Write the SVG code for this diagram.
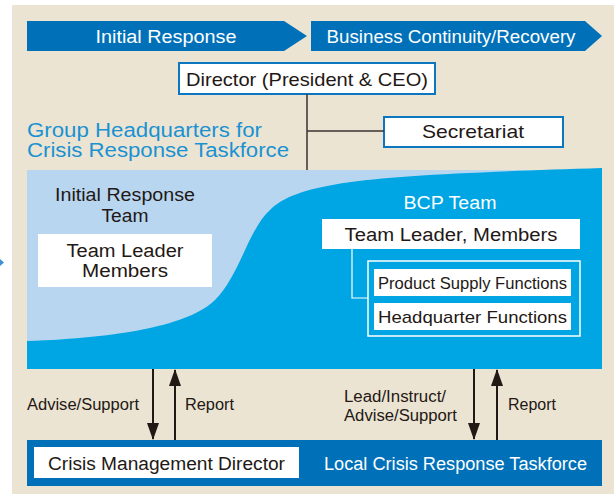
<svg xmlns="http://www.w3.org/2000/svg" width="614" height="494" viewBox="0 0 614 494">
<defs>
<style>
text{font-family:"Liberation Sans",Arial,sans-serif;fill:#231815}
.w{fill:#ffffff}
.hq{fill:#1a92d2}
.box{fill:#ffffff}
.bbox{fill:#ffffff;stroke:#0a77c0;stroke-width:2}
.ln{stroke:#3a3330;stroke-width:1.5;fill:none}
.ar{stroke:#231815;stroke-width:2;fill:none}
</style>
<marker id="ah" viewBox="0 0 17 12" refX="16" refY="6" markerWidth="17" markerHeight="12" markerUnits="userSpaceOnUse" orient="auto">
<path d="M0,0 L17,6 L0,12 Z" fill="#231815"/>
</marker>
</defs>
<rect x="0" y="0" width="614" height="494" fill="#ffffff"/>
<rect x="12" y="5" width="602" height="489" fill="#ece4d2"/>
<path d="M0,259 L4,262.5 L0,266 Z" fill="#3d8fd6"/>

<g id="phase-initial">
<path d="M27,21 H284 L307,36 L284,51 H27 Z" fill="#0071b9"/>
<text class="w" x="166" y="43" font-size="18" text-anchor="middle" textLength="141" lengthAdjust="spacingAndGlyphs">Initial Response</text>
</g>
<g id="phase-bc">
<path d="M311,21 H585 L602,36 L585,51 H311 Z" fill="#0071b9"/>
<text class="w" x="451" y="43" font-size="18" text-anchor="middle" textLength="249" lengthAdjust="spacingAndGlyphs">Business Continuity/Recovery</text>
</g>

<g id="director">
<rect class="bbox" x="179" y="63" width="256" height="31"/>
<text x="307" y="86" font-size="18.5" text-anchor="middle" textLength="242" lengthAdjust="spacingAndGlyphs">Director (President &amp; CEO)</text>
</g>
<g id="secretariat">
<rect class="bbox" x="384" y="117" width="179" height="30"/>
<text x="473" y="138" font-size="18.5" text-anchor="middle" textLength="102" lengthAdjust="spacingAndGlyphs">Secretariat</text>
</g>
<g id="hq-title">
<text class="hq" x="27" y="137" font-size="20" textLength="235" lengthAdjust="spacingAndGlyphs">Group Headquarters for</text>
<text class="hq" x="27" y="157" font-size="20" textLength="262" lengthAdjust="spacingAndGlyphs">Crisis Response Taskforce</text>
</g>

<g id="hq-panel">
<rect x="27" y="170" width="575" height="199" fill="#b8d6f0"/>
<path d="M27,341 C120,338 190,325 215,300 C240,275 248,230 270,210 C300,180 380,175 602,168 V369 H27 Z" fill="#00a5e3"/>
</g>

<g id="initial-team">
<text x="125" y="201" font-size="17.5" text-anchor="middle" textLength="140" lengthAdjust="spacingAndGlyphs">Initial Response</text>
<text x="125" y="222" font-size="17.5" text-anchor="middle" textLength="47" lengthAdjust="spacingAndGlyphs">Team</text>
</g>
<g id="initial-leader">
<rect class="box" x="38" y="234" width="174" height="53"/>
<text x="125" y="257" font-size="18" text-anchor="middle" textLength="117" lengthAdjust="spacingAndGlyphs">Team Leader</text>
<text x="125" y="277" font-size="18" text-anchor="middle" textLength="86" lengthAdjust="spacingAndGlyphs">Members</text>
</g>

<g id="bcp-team">
<text class="w" x="450" y="209" font-size="17.5" text-anchor="middle" textLength="93" lengthAdjust="spacingAndGlyphs">BCP Team</text>
</g>
<g id="bcp-leader">
<rect class="box" x="322" y="219" width="258" height="30"/>
<text x="451" y="241" font-size="18" text-anchor="middle" textLength="213" lengthAdjust="spacingAndGlyphs">Team Leader, Members</text>
</g>
<g id="bcp-functions">
<rect x="368" y="261" width="212" height="75" fill="none" stroke="#ffffff" stroke-width="1.5"/>
</g>
<g id="product-supply">
<rect class="box" x="374" y="269" width="197" height="27"/>
<text x="472.5" y="289" font-size="17" text-anchor="middle" textLength="189" lengthAdjust="spacingAndGlyphs">Product Supply Functions</text>
</g>
<g id="hq-functions">
<rect class="box" x="374" y="303" width="197" height="27"/>
<text x="472.5" y="323" font-size="17" text-anchor="middle" textLength="189" lengthAdjust="spacingAndGlyphs">Headquarter Functions</text>
</g>

<g id="local-taskforce">
<rect x="27" y="440" width="575" height="46" fill="#0071b9"/>
<text class="w" x="455.5" y="470" font-size="18" text-anchor="middle" textLength="263" lengthAdjust="spacingAndGlyphs">Local Crisis Response Taskforce</text>
</g>
<g id="crisis-director">
<rect class="box" x="34" y="447" width="265" height="31"/>
<text x="166.5" y="470" font-size="18" text-anchor="middle" textLength="237" lengthAdjust="spacingAndGlyphs">Crisis Management Director</text>
</g>

<g id="connectors">
<path class="ln" d="M307,94 V170"/>
<path class="ln" d="M307,131 H384"/>
<path d="M352,249 V298 H368" fill="none" stroke="#ffffff" stroke-width="1.2"/>
<path class="ar" d="M153,369 V439" marker-end="url(#ah)"/>
<path class="ar" d="M175,440 V370" marker-end="url(#ah)"/>
<path class="ar" d="M474,369 V439" marker-end="url(#ah)"/>
<path class="ar" d="M497,440 V370" marker-end="url(#ah)"/>
<text x="27" y="410" font-size="16" textLength="112" lengthAdjust="spacingAndGlyphs">Advise/Support</text>
<text x="185" y="410" font-size="16" textLength="49" lengthAdjust="spacingAndGlyphs">Report</text>
<text x="344" y="402" font-size="16" textLength="102" lengthAdjust="spacingAndGlyphs">Lead/Instruct/</text>
<text x="344" y="421" font-size="16" textLength="113" lengthAdjust="spacingAndGlyphs">Advise/Support</text>
<text x="508" y="410" font-size="16" textLength="48" lengthAdjust="spacingAndGlyphs">Report</text>
</g>
</svg>
